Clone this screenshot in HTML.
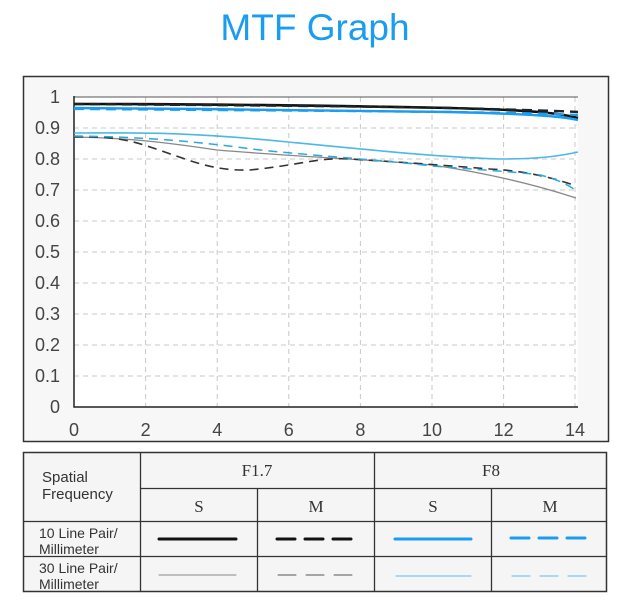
<!DOCTYPE html>
<html><head><meta charset="utf-8"><style>
body{margin:0;background:#fff;width:620px;height:600px;overflow:hidden;font-family:"Liberation Sans",sans-serif}
</style></head><body>
<svg width="620" height="600" xmlns="http://www.w3.org/2000/svg" font-family="Liberation Sans, sans-serif">
<text x="315" y="40" text-anchor="middle" font-size="37" fill="#1a9cf0">MTF Graph</text>
<rect x="23.5" y="76.5" width="585" height="365" fill="#f7f7f7" stroke="#333" stroke-width="1.5"/>
<rect x="74" y="97" width="504" height="310" fill="#fff"/>
<g stroke="#c8c8c8" stroke-width="1" stroke-dasharray="5,4">
<line x1="74" x2="578" y1="128" y2="128"/><line x1="74" x2="578" y1="159" y2="159"/>
<line x1="74" x2="578" y1="190" y2="190"/><line x1="74" x2="578" y1="221" y2="221"/>
<line x1="74" x2="578" y1="252" y2="252"/><line x1="74" x2="578" y1="283" y2="283"/>
<line x1="74" x2="578" y1="314" y2="314"/><line x1="74" x2="578" y1="345" y2="345"/>
<line x1="74" x2="578" y1="376" y2="376"/>
<line y1="97" y2="407" x1="145.6" x2="145.6"/><line y1="97" y2="407" x1="217.2" x2="217.2"/>
<line y1="97" y2="407" x1="288.8" x2="288.8"/><line y1="97" y2="407" x1="360.4" x2="360.4"/>
<line y1="97" y2="407" x1="432" x2="432"/><line y1="97" y2="407" x1="503.6" x2="503.6"/>
<line y1="97" y2="407" x1="575" x2="575"/>
</g>
<line x1="74" y1="97" x2="578" y2="97" stroke="#555" stroke-width="1"/>
<polyline points="74,96 74,407 578,407" fill="none" stroke="#222" stroke-width="1.5"/>
<g font-size="18" fill="#444" text-anchor="end">
<text x="60" y="103">1</text><text x="60" y="134">0.9</text><text x="60" y="165">0.8</text>
<text x="60" y="196">0.7</text><text x="60" y="227">0.6</text><text x="60" y="258">0.5</text>
<text x="60" y="289">0.4</text><text x="60" y="320">0.3</text><text x="60" y="351">0.2</text>
<text x="60" y="382">0.1</text><text x="60" y="413">0</text>
</g>
<g font-size="18" fill="#444" text-anchor="middle">
<text x="74" y="436">0</text><text x="145.6" y="436">2</text><text x="217.2" y="436">4</text>
<text x="288.8" y="436">6</text><text x="360.4" y="436">8</text><text x="432" y="436">10</text>
<text x="503.6" y="436">12</text><text x="575" y="436">14</text>
</g>
<g fill="none">
<!-- 30 lp -->
<path d="M74,137 C120,138 150,140 217,150 C300,157 380,160 432,165 C480,172 530,183 576,198" stroke="#888" stroke-width="1.3"/>
<path d="M74,137 C110,136 130,140 150,147 C190,160 210,171 250,170 C300,165 320,157 350,159 C400,162 440,165 490,169 C530,171 560,180 576,186" stroke="#333" stroke-width="1.6" stroke-dasharray="9,6"/>
<path d="M74,133 C130,133 180,131 288,142 C380,151 440,157 500,159 C540,159 560,156 578,152" stroke="#4ab8e8" stroke-width="1.6"/>
<path d="M74,136 C150,137 200,142 260,150 C330,157 380,160 432,166 C480,170 520,172 540,175 C560,180 570,186 578,192" stroke="#2aa8e0" stroke-width="1.5" stroke-dasharray="9,6"/>
<!-- 10 lp -->
<path d="M74,104 C200,104 350,106 450,108 C530,110 560,113 578,118" stroke="#111" stroke-width="2.6"/>
<path d="M74,104 C200,105 350,106 450,108 C530,110 560,111 578,112" stroke="#222" stroke-width="2.4" stroke-dasharray="10,6"/>
<path d="M74,108 C200,109 350,110 450,112 C530,114 560,116 578,120" stroke="#1a9cf0" stroke-width="2.4"/>
<path d="M74,109 C200,110 350,111 450,112 C530,113 560,114 578,115" stroke="#1a9cf0" stroke-width="2.2" stroke-dasharray="10,6"/>
</g>
<!-- table -->
<rect x="23.5" y="452.5" width="583" height="139" fill="#f5f5f5" stroke="#333" stroke-width="1.5"/>
<g stroke="#333" stroke-width="1.3">
<line x1="140.5" y1="452" x2="140.5" y2="592"/>
<line x1="374.5" y1="452" x2="374.5" y2="592"/>
<line x1="257.5" y1="488" x2="257.5" y2="592"/>
<line x1="491.5" y1="488" x2="491.5" y2="592"/>
<line x1="140" y1="488.5" x2="607" y2="488.5"/>
<line x1="23" y1="521.5" x2="607" y2="521.5"/>
<line x1="23" y1="556.5" x2="607" y2="556.5"/>
</g>
<g font-size="15" fill="#333">
<text x="42" y="482">Spatial</text><text x="42" y="499">Frequency</text>
<text x="39" y="538" font-size="14">10 Line Pair/</text><text x="39" y="554" font-size="14">Millimeter</text>
<text x="39" y="573" font-size="14">30 Line Pair/</text><text x="39" y="589" font-size="14">Millimeter</text>
</g>
<g font-family="Liberation Serif, serif" font-size="17" fill="#333" text-anchor="middle">
<text x="257" y="476">F1.7</text><text x="491" y="476">F8</text>
<text x="199" y="512">S</text><text x="316" y="512">M</text><text x="433" y="512">S</text><text x="550" y="512">M</text>
</g>
<g fill="none" stroke-linecap="round">
<line x1="159" y1="539" x2="236" y2="539" stroke="#111" stroke-width="3"/>
<line x1="277" y1="539" x2="354" y2="539" stroke="#111" stroke-width="3" stroke-dasharray="18,10"/>
<line x1="395" y1="539" x2="471" y2="539" stroke="#1a9cf0" stroke-width="3"/>
<line x1="511" y1="538" x2="588" y2="538" stroke="#1a9cf0" stroke-width="3" stroke-dasharray="18,10"/>
<line x1="159" y1="575" x2="236" y2="575" stroke="#888" stroke-width="1"/>
<line x1="278" y1="575" x2="354" y2="575" stroke="#555" stroke-width="1" stroke-dasharray="18,10"/>
<line x1="396" y1="576" x2="471" y2="576" stroke="#7cc6ee" stroke-width="1.2"/>
<line x1="512" y1="576" x2="588" y2="576" stroke="#7cc6ee" stroke-width="1.2" stroke-dasharray="18,10"/>
</g>
</svg>
</body></html>
